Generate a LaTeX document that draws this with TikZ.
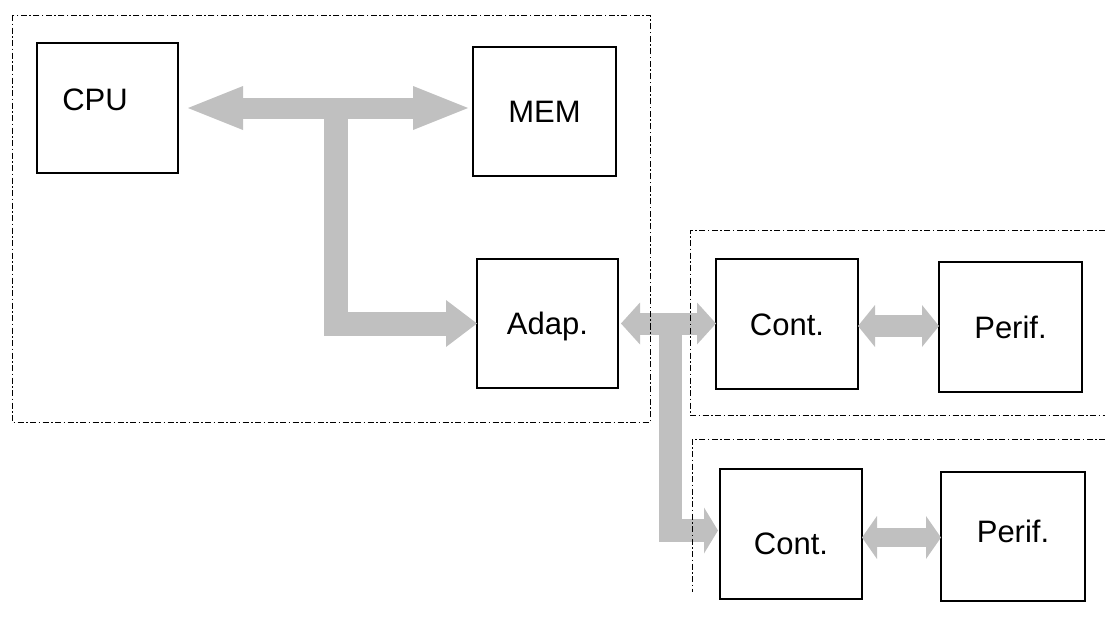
\documentclass[tikz,border=0pt]{standalone}
\usepackage{fontspec}
\setmainfont{Liberation Sans}
\usetikzlibrary{arrows.meta,calc}
\definecolor{busgray}{RGB}{192,192,192}
\tikzset{
  SysHead/.tip={Triangle[length=27.5pt, width=22pt, line width=0pt]},
  AdpHead/.tip={Triangle[length=15.5pt, width=23.5pt, line width=0pt]},
  IoHead/.tip={Triangle[length=9.5pt, width=21pt, line width=0pt]},
  BrHead/.tip={Triangle[length=7pt, width=23pt, line width=0pt]},
  PfHead/.tip={Triangle[length=8.5pt, width=21pt, line width=0pt]},
  PgHead/.tip={Triangle[length=7.5pt, width=21.5pt, line width=0pt]}
}
\begin{document}
\begin{tikzpicture}[x=0.5pt,y=-0.5pt,
  unit/.style={draw, line width=1pt, rectangle, inner sep=0pt, outer sep=0pt,
    font=\fontsize{15.5}{18}\selectfont, text height=11.1pt, text depth=0pt},
  tag/.style={inner sep=0pt, font=\fontsize{15.5}{18}\selectfont,
    text height=11.1pt, text depth=0pt},
  bus/.style={draw=busgray, line join=miter},
  frame/.style={draw, line width=0.5pt,
    dash pattern=on 3pt off 1.25pt on 0.75pt off 1.25pt}
]
\useasboundingbox (0,0) rectangle (1105,621);

% functional blocks
\node[unit, minimum width=70.5pt, minimum height=65pt,
      label={[tag, xshift=-6.25pt, yshift=4.5pt]center:CPU}] (CPU) at (107.5,108) {};
\node[unit, minimum width=71.5pt, minimum height=64.5pt] (MEM) at (544.5,111.5) {MEM};
\node[unit, minimum width=70.5pt, minimum height=64.5pt] (Adap) at (547.5,323.5) {Adap.};
\node[unit, minimum width=71pt, minimum height=65pt] (Cont1) at (787,324) {Cont.};
\node[unit, minimum width=71.5pt, minimum height=65pt] (Perif1) at (1010.5,327) {Perif.};
\node[unit, minimum width=71pt, minimum height=65pt,
      label={[tag, yshift=-4.75pt]center:Cont.}] (Cont2) at (791,534) {};
\node[unit, minimum width=72pt, minimum height=64.5pt,
      label={[tag, yshift=2.75pt]center:Perif.}] (Perif2) at (1013,536.5) {};

% system bus between CPU and memory, with a branch to the adapter
\draw[bus, line width=10.5pt, SysHead-SysHead,
      shorten <=5pt, shorten >=2.5pt] (CPU.east) -- (CPU.east -| MEM.west);
\coordinate (j1) at ([xshift=79pt]CPU.east);
\draw[bus, line width=12pt, -AdpHead] (j1) |- (Adap.west);

% I/O bus from the adapter to the controllers
\draw[bus, line width=11pt, IoHead-IoHead,
      shorten <=1.5pt] (Adap.east) -- (Adap.east -| Cont1.west);
\coordinate (j2) at ([xshift=26.25pt]Adap.east);
\coordinate (c2in) at ([yshift=1.75pt]Cont2.west);
\draw[bus, line width=11.5pt, -BrHead, shorten >=1pt] (j2) |- (c2in);

% controller to peripheral links
\coordinate (b3) at ([yshift=-1pt]Cont1.east);
\draw[bus, line width=11pt, PfHead-PfHead] (b3) -- (b3 -| Perif1.west);
\coordinate (b4) at ([yshift=-1.75pt]Cont2.east);
\draw[bus, line width=9.5pt, PgHead-PgHead] (b4) -- (b4 -| Perif2.west);

% subsystem frames
\draw[frame] (12,15) rectangle (650,422);
\draw[frame] (1105,230) -- (690,230) -- (690,415) -- (1105,415);
\draw[frame] (1105,439) -- (692,439) -- (692,592);
\end{tikzpicture}
\end{document}
